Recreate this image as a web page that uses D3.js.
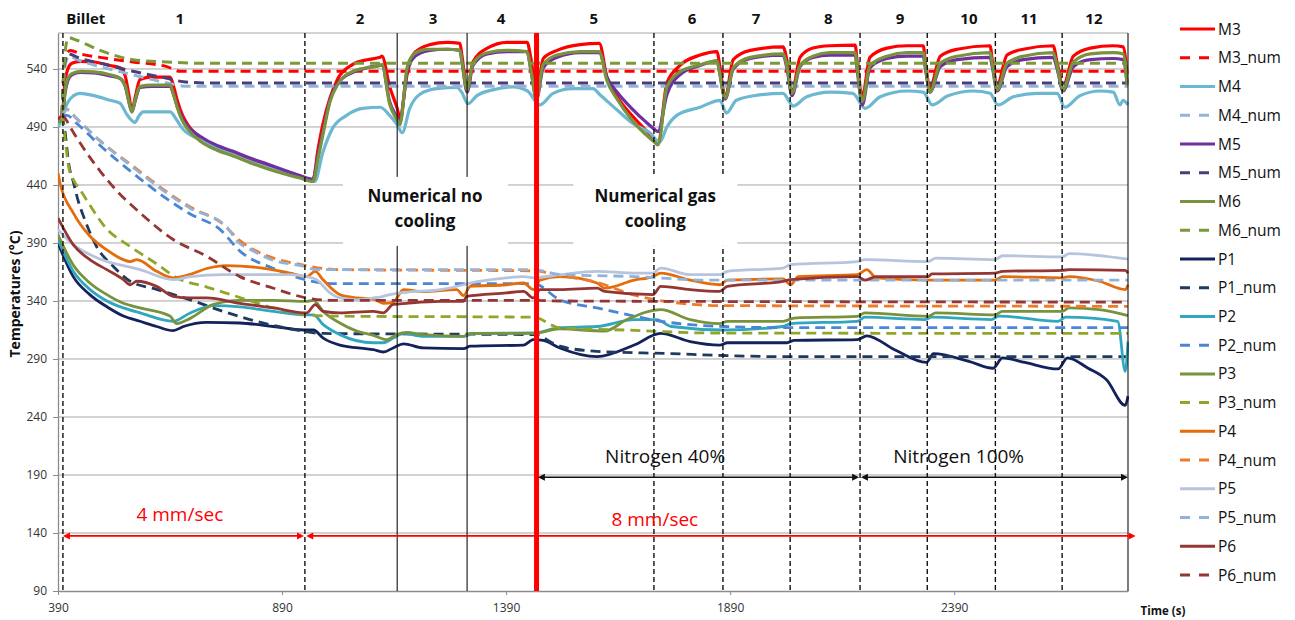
<!DOCTYPE html>
<html>
<head>
<meta charset="utf-8">
<script src="https://cdn.jsdelivr.net/npm/d3@7"></script>
<style>
  body { margin: 0; background: #fff; }
  svg { font-family: "Open Sans", "DejaVu Sans", sans-serif; }
</style>
</head>
<body>
<div id="chart"></div>
<script>
// ---- datos (tiempo s, temperatura C) ----
const M3 = [[390,497],[399,500],[406,530],[412,540],[421,545],[440,546.5],[470,546],[506,543],[528,541],[540,534],[548,518],[555,504],[562,515],[573,531],[600,533],[640,533],[648,525],[656,513],[668,500],[678,493],[707,481],[745,472],[781,467],[820,461],[857,456],[900,451],[930,448],[959,444],[970,470],[981,492],[997,515],[1015,532],[1048,544],[1080,548],[1109,550],[1113,551],[1130,525],[1147,506],[1153,498],[1169,535],[1182,552],[1200,558],[1220,561],[1258,563],[1287,562],[1292,550],[1303,522],[1316,546],[1348,558],[1392,563],[1437,563],[1445,550],[1458,520],[1473,549],[1504,556],[1555,561],[1598,562],[1615,533],[1638,516],[1673,499],[1700,488],[1718,481],[1729,476],[1749,528],[1778,543],[1823,552],[1861,555],[1866,545],[1879,516],[1897,548],[1935,556],[2008,559],[2018,545],[2028,520],[2046,550],[2075,558],[2113,560],[2169,560.5],[2174,545],[2185,516],[2202,550],[2240,558],[2285,560],[2321,560],[2326,545],[2336,524],[2359,551],[2397,557],[2470,560],[2476,545],[2486,526],[2508,552],[2544,557],[2611,560],[2620,545],[2633,525],[2656,551],[2694,558],[2745,560],[2767,559],[2776,536]];
const M3_num = [[399,500],[404,545],[410,554],[418,556],[440,553],[484,550],[557,546],[633,542],[662,538],[700,538],[2778,538]];
const M4 = [[390,490],[399,497],[410,510],[425,517],[439,519],[470,517],[506,513],[528,510.5],[545,500],[562,494],[570,499],[580,503],[640,503],[655,496],[667,489],[707,479],[745,472],[781,466],[820,460],[857,455],[900,450],[930,447],[963,443],[981,468],[1003,489],[1034,500],[1070,506],[1109,507],[1130,500],[1147,492],[1158,485],[1175,506],[1197,518],[1235,523],[1280,524],[1291,520],[1305,510],[1325,517],[1360,522],[1405,524.5],[1438,521],[1465,509],[1495,519],[1539,523],[1584,523],[1600,517.6],[1638,504.6],[1673,493],[1711,485],[1733,477],[1749,490],[1771,500],[1823,507],[1867,513],[1882,502],[1904,513],[1955,517.6],[2008,519],[2024,510.7],[2030,508],[2061,516],[2113,520],[2164,519],[2191,506],[2225,516],[2285,521],[2321,520],[2341,509],[2375,516.6],[2433,521],[2470,519],[2488,509],[2522,516],[2575,519],[2620,519],[2637,507],[2671,517],[2716,521],[2745,520],[2760,509],[2767,513],[2778,509]];
const M4_num = [[399,500],[405,540],[414,551],[440,547],[484,542],[557,535],[633,528],[678,525],[2778,525]];
const M5 = [[390,495],[399,498],[406,520],[412,530],[421,535],[440,537],[470,536.5],[506,534],[528,532],[540,525],[548,512],[555,503],[562,512],[573,524],[600,525],[640,525],[648,518],[656,508],[668,497],[678,491],[707,482],[745,474],[781,469],[820,463],[857,458],[900,452],[930,448],[959,445],[970,465],[981,485],[997,513],[1015,528],[1048,537],[1080,541],[1109,543],[1113,543],[1130,512],[1147,498],[1153,494],[1169,538],[1182,549],[1200,554],[1220,556],[1258,557],[1287,556],[1292,545],[1303,520],[1316,543],[1348,553],[1392,555],[1437,555],[1445,540],[1458,514],[1473,541],[1504,550],[1555,554],[1598,554],[1615,533],[1638,520],[1673,505],[1700,495],[1718,489],[1729,486],[1749,518],[1778,535],[1823,543],[1861,547],[1866,538],[1879,514],[1897,540],[1935,549],[2008,552],[2018,538],[2028,517],[2046,542],[2075,550],[2113,552],[2169,552],[2174,538],[2185,509],[2202,541],[2240,549],[2285,551],[2321,551],[2326,540],[2336,520],[2359,542],[2397,548],[2470,550],[2476,540],[2486,521],[2508,542],[2544,548],[2611,550],[2620,540],[2633,521],[2656,542],[2694,548],[2745,549],[2767,548],[2776,528]];
const M5_num = [[399,500],[405,545],[412,553],[440,549],[484,545],[557,538],[633,532],[670,529],[720,528],[2778,528]];
const M6 = [[390,494],[399,497],[406,522],[412,532],[421,536],[440,538],[470,537.5],[506,535],[528,532],[540,526],[548,512],[555,503],[562,513],[573,525],[600,526],[640,526],[648,518],[656,507],[668,495],[678,489],[707,478],[745,470],[781,465],[820,459],[857,454],[900,449],[930,446],[959,443],[970,462],[981,483],[997,512],[1015,527],[1048,538],[1080,541],[1109,543],[1113,544],[1130,510],[1147,496],[1153,492],[1169,541],[1182,552],[1200,556],[1220,557],[1258,557],[1287,556],[1292,545],[1303,522],[1316,545],[1348,554],[1392,556],[1437,555],[1445,540],[1458,515],[1473,544],[1504,552],[1555,555],[1598,555],[1615,530],[1638,514],[1673,495],[1700,484],[1718,478],[1729,474.5],[1749,524.5],[1778,537.5],[1823,543.5],[1861,547],[1866,538],[1879,515],[1897,541],[1935,550],[2008,553],[2018,540],[2028,519],[2046,543],[2075,551],[2113,554],[2169,554],[2174,540],[2185,512],[2202,543],[2240,551],[2285,554],[2321,554],[2326,542],[2336,520],[2359,545],[2397,551],[2470,554],[2476,542],[2486,522],[2508,545],[2544,551],[2611,554],[2620,542],[2633,522],[2656,546],[2694,553],[2745,554],[2767,553],[2776,526]];
const M6_num = [[399,500],[406,555],[413,567],[430,565],[484,556],[557,548],[633,546],[700,545],[2778,545]];

const P1 = [[390,390],[424,361],[461,345.5],[499,335],[536,327],[573,322.5],[610,318],[647,314.4],[670,318],[722,321.6],[796,321],[871,318],[938,315],[960,315],[982,308],[1019,302],[1094,298],[1116,296],[1138,299.5],[1161,303],[1205,299.5],[1295,299],[1310,301],[1429,302],[1451,306.7],[1473,306],[1510,299.5],[1593,292],[1676,302],[1735,312],[1801,305],[1867,302],[1884,304],[2017,304],[2033,306],[2174,306.7],[2195,310],[2257,298],[2328,287],[2344,294.6],[2423,288],[2477,282],[2498,291],[2548,287],[2622,281.4],[2643,291],[2689,282],[2730,272],[2772,250],[2778,258]];
const P1_num = [[399,500],[405,488],[414,458],[424,443],[436,425],[446,414],[476,387],[513,370],[551,357],[610,350],[685,341],[759,331],[833,322.5],[908,316],[982,312],[1451,311],[1510,301],[1593,296.6],[1759,294.6],[1876,293],[2008,292],[2778,292]];
const P2 = [[390,393],[424,365.6],[461,350],[499,340],[536,334],[573,329.7],[647,322.5],[685,329.7],[737,336],[796,335],[871,331],[945,328],[960,328],[982,319.6],[1019,311],[1094,304],[1116,304],[1138,308],[1161,312],[1205,309.5],[1295,309.5],[1317,312],[1451,312.4],[1510,317],[1593,318],[1676,324],[1726,324],[1759,318],[1876,315],[2008,318],[2025,320.5],[2174,322.5],[2191,326],[2324,324],[2340,326],[2473,324],[2490,327],[2622,322.5],[2639,326],[2755,322.5],[2772,279.4],[2778,305]];
const P2_num = [[399,500],[410,500],[432,493],[484,474],[558,450],[633,428],[685,415],[752,401.5],[796,383],[871,368],[945,358],[1000,355],[1451,355],[1510,341],[1593,334],[1676,327],[1735,322.5],[1801,319.6],[1876,318],[2008,317],[2778,317]];
const P3 = [[390,397],[424,371],[461,355.5],[499,345.5],[536,338],[573,334],[640,327],[655,320.5],[685,325],[737,337],[796,340.6],[871,340.6],[945,339.7],[960,340.6],[982,331],[1019,321],[1057,314],[1094,310.4],[1124,306.7],[1146,311],[1168,313],[1205,311],[1295,309.5],[1310,312],[1451,312],[1510,316],[1610,314],[1660,324],[1735,332.5],[1801,324],[1867,320.5],[1884,322.5],[2008,322.5],[2033,325.3],[2174,326.8],[2191,329.7],[2332,326.8],[2349,329.7],[2481,328],[2498,331],[2631,331],[2647,334],[2714,332.5],[2778,327.4]];
const P3_num = [[399,500],[404,485],[414,455],[425,444],[439,436],[499,402],[551,387],[610,372],[655,360],[722,352],[796,343],[871,334],[945,328],[997,327],[1451,326],[1510,317],[1676,314.7],[1842,312.4],[2778,312]];
const P4 = [[390,450],[394.5,441.7],[424,416],[461,396],[499,384],[536,375.6],[551,374],[566,375.6],[610,365.6],[647,360],[685,363],[722,368],[766,370.5],[833,369],[908,364],[945,361],[964,365.6],[982,358],[1019,345.5],[1057,342.6],[1094,341.7],[1116,338],[1138,338.8],[1161,349.8],[1205,348],[1280,349.8],[1295,344.6],[1310,352.6],[1391,354],[1429,355.5],[1451,349.8],[1466,358],[1510,361],[1593,355.5],[1610,351],[1676,358],[1718,361],[1735,364],[1801,358],[1867,354],[1884,358],[2008,359],[2025,354],[2042,361],[2174,362.7],[2195,367],[2216,360],[2340,358],[2481,358],[2498,361],[2631,360],[2647,361],[2714,357],[2772,349.8],[2778,354]];
const P4_num = [[399,500],[410,505],[432,497],[484,478],[558,456],[633,434],[685,421],[759,406],[796,392],[833,383],[871,377],[938,371],[982,368],[1019,367],[1451,366],[1510,362],[1593,356],[1676,345],[1759,339],[1876,336],[2778,335.4]];
const P5 = [[390,401.5],[424,388.6],[461,380],[499,374],[536,370.5],[573,367],[647,358.4],[685,361],[759,362.7],[833,362.7],[908,362.7],[945,361],[967,358.4],[997,347],[1019,342.6],[1057,341],[1094,342.6],[1116,344],[1131,345.5],[1168,347.5],[1243,349.8],[1295,354],[1310,355.5],[1391,360],[1429,361],[1451,360],[1510,362.7],[1593,365.6],[1676,364],[1718,364],[1735,368.4],[1801,362.7],[1867,362.7],[1884,365.6],[2008,368.4],[2025,371.3],[2174,374],[2191,375.6],[2332,374],[2349,377],[2481,375.6],[2498,379],[2631,378],[2647,380.8],[2778,376]];
const P5_num = [[399,500],[410,505],[432,497],[484,478],[558,455],[633,433],[685,420],[766,404],[789,392],[826,383],[871,375],[938,370],[967,367],[1451,367],[1510,363],[1676,361],[1842,358],[2778,358]];
const P6 = [[390,411.5],[424,388.6],[461,375.6],[499,367],[536,358.4],[551,354],[566,357],[610,352.6],[647,344],[685,342.6],[722,342.6],[796,338],[871,334],[945,329.7],[964,336.8],[982,331],[1019,329.7],[1094,331],[1116,329.7],[1138,337],[1168,338],[1243,339.7],[1295,339.7],[1302,344],[1391,347],[1429,348.3],[1451,342.6],[1466,349.8],[1510,349.8],[1593,351],[1610,348.3],[1718,345.5],[1735,352.6],[1801,349.8],[1867,348.3],[1884,352.6],[2008,357],[2025,358.4],[2174,361],[2191,358],[2216,361],[2332,361],[2340,363.3],[2481,364],[2498,365.6],[2631,366.4],[2647,367],[2772,366.4],[2778,364]];
const P6_num = [[399,500],[405,498],[417,490],[450,470],[484,452],[521,435],[573,416],[647,393],[722,378.5],[796,361],[871,351],[945,342.6],[997,340.6],[1451,340.6],[1510,340],[2778,339]];

const SERIES_NAMES = ["M3","M3_num","M4","M4_num","M5","M5_num","M6","M6_num","P1","P1_num","P2","P2_num","P3","P3_num","P4","P4_num","P5","P5_num","P6","P6_num"];
const SERIES_DATA = [M3,M3_num,M4,M4_num,M5,M5_num,M6,M6_num,P1,P1_num,P2,P2_num,P3,P3_num,P4,P4_num,P5,P5_num,P6,P6_num];
const SERIES_COLORS = ["#ff0000","#ff0000","#6db8d1","#93b3d9","#7030a0","#4a3d78","#77933c","#7a9a3a","#14225c","#1f3a5f","#31a6bf","#4a86d2","#77933c","#8fa62a","#e46c0a","#ef7a2a","#b6c4de","#93b2d8","#943634","#943634"];

const X_TICKS = [390, 890, 1390, 1890, 2390];
const Y_TICKS = [90, 140, 190, 240, 290, 340, 390, 440, 490, 540];

// limites de ciclo (lineas verticales) y etiquetas de arriba
const SEG_BOUNDS = [401, 941, 1147, 1303, 1458, 1720, 1874, 2024, 2180, 2330, 2482, 2631, 2778];
const SEG_STYLE = ["dash","dash","solid","solid","red","dash","dash","dash","dash","dash","dash","dash","solid"];
const SEG_LABELS = ["Billet","1","2","3","4","5","6","7","8","9","10","11","12"];
const SEG_LABEL_T = [452, 662, 1064, 1227, 1379, 1586, 1805, 1948, 2109, 2269, 2423, 2557, 2702];

// Tamaño
const WIDTH = 1295;
const HEIGHT = 620;
const PLOT = { left: 58, right: 1128, top: 33, bottom: 591 };

const SVG = d3.select("#chart").append("svg")
  .attr("width", WIDTH).attr("height", HEIGHT);

const x = d3.scaleLinear().domain([390, 2778]).range([PLOT.left, PLOT.right]);
const y = d3.scaleLinear().domain([90, 571]).range([PLOT.bottom, PLOT.top]);

// grilla horizontal
SVG.append("g").selectAll("line")
  .data(Y_TICKS.filter(d => d > 90))
  .join("line")
  .attr("x1", PLOT.left).attr("x2", PLOT.right)
  .attr("y1", d => y(d)).attr("y2", d => y(d))
  .attr("stroke", "#a6a6a6").attr("stroke-width", 1);

// borde superior
SVG.append("line")
  .attr("x1", PLOT.left).attr("x2", PLOT.right)
  .attr("y1", PLOT.top).attr("y2", PLOT.top)
  .attr("stroke", "#a6a6a6");

// ejes
const gy = SVG.append("g").attr("transform", `translate(${PLOT.left},0)`)
  .call(d3.axisLeft(y).tickValues(Y_TICKS).tickSize(5).tickPadding(6).tickSizeOuter(0));
const gx = SVG.append("g").attr("transform", `translate(0,${PLOT.bottom})`)
  .call(d3.axisBottom(x).tickValues(X_TICKS).tickFormat(d3.format("d")).tickSize(4).tickPadding(8).tickSizeOuter(0));
[gx, gy].forEach(g => {
  g.select(".domain").attr("stroke", "#8c8c8c").attr("stroke-width", 1.3);
  g.selectAll(".tick line").attr("stroke", "#8c8c8c");
  g.selectAll(".tick text").attr("fill", "#333").style("font-size", "12px")
    .style("font-family", '"Open Sans", sans-serif');
});

// series
SVG.append("clipPath").attr("id", "plotclip").append("rect")
  .attr("x", PLOT.left).attr("y", PLOT.top)
  .attr("width", PLOT.right - PLOT.left + 1).attr("height", PLOT.bottom - PLOT.top);

const line = d3.line().x(d => x(d[0])).y(d => y(d[1])).curve(d3.curveMonotoneX);

SVG.append("g").attr("clip-path", "url(#plotclip)")
  .selectAll("path")
  .data(SERIES_DATA)
  .join("path")
  .attr("d", d => line(d))
  .attr("fill", "none")
  .attr("stroke", (d, i) => SERIES_COLORS[i])
  .attr("stroke-width", (d, i) => i < 8 ? (i % 2 == 0 ? 3.2 : 3) : 2.8)
  .attr("stroke-dasharray", (d, i) => i % 2 == 1 ? "10,6" : null)
  .attr("stroke-linejoin", "round");

// lineas verticales de cada ciclo
SVG.append("g").selectAll("line")
  .data(SEG_BOUNDS)
  .join("line")
  .attr("x1", d => x(d)).attr("x2", d => x(d))
  .attr("y1", PLOT.top).attr("y2", PLOT.bottom)
  .attr("stroke", (d, i) => SEG_STYLE[i] == "red" ? "#ff0000" : "#111")
  .attr("stroke-width", (d, i) => SEG_STYLE[i] == "red" ? 5 : (SEG_STYLE[i] == "solid" ? 1.1 : 1.4))
  .attr("stroke-dasharray", (d, i) => SEG_STYLE[i] == "dash" ? "5,3" : null);

// cajas de texto "Numerical ..."
const BOXES = [
  { t0: 1026, t1: 1394, tc: 1209, lines: ["Numerical no", "cooling"] },
  { t0: 1540, t1: 1906, tc: 1723, lines: ["Numerical gas", "cooling"] }
];
BOXES.forEach(b => {
  SVG.append("rect")
    .attr("x", x(b.t0)).attr("width", x(b.t1) - x(b.t0))
    .attr("y", y(447)).attr("height", y(387.5) - y(447))
    .attr("fill", "#fff");
  b.lines.forEach((s, k) => {
    SVG.append("text")
      .attr("x", x(b.tc)).attr("y", y(k == 0 ? 425.3 : 403.8))
      .attr("text-anchor", "middle")
      .style("font-size", "17px").style("font-weight", "bold")
      .attr("fill", "#111").text(s);
  });
});

// etiquetas de ciclo
SVG.append("g").selectAll("text")
  .data(SEG_LABELS)
  .join("text")
  .attr("x", (d, i) => x(SEG_LABEL_T[i]))
  .attr("y", 24)
  .attr("text-anchor", "middle")
  .style("font-size", "15px").style("font-weight", "bold")
  .attr("fill", "#111")
  .text(d => d);

// flechas
function flecha(t0, t1, T, color) {
  const g = SVG.append("g");
  const yy = y(T);
  g.append("line")
    .attr("x1", x(t0) + 2).attr("x2", x(t1) - 2)
    .attr("y1", yy).attr("y2", yy)
    .attr("stroke", color).attr("stroke-width", 1.6);
  g.append("path")
    .attr("d", `M${x(t0)},${yy} l7,-3.5 l0,7 z`)
    .attr("fill", color);
  g.append("path")
    .attr("d", `M${x(t1)},${yy} l-7,-3.5 l0,7 z`)
    .attr("fill", color);
}
flecha(1461, 2178, 188, "#111");
flecha(2182, 2778, 188, "#111");
flecha(401, 939, 137.5, "#ff0000");
flecha(944, 2795, 137.5, "#ff0000");

const NOTES = [
  { t: 1745, T: 200.3, s: "Nitrogen 40%", c: "#111" },
  { t: 2400, T: 200.3, s: "Nitrogen 100%", c: "#111" },
  { t: 662, T: 150, s: "4 mm/sec", c: "#ff0000" },
  { t: 1722, T: 146, s: "8 mm/sec", c: "#ff0000" }
];
SVG.append("g").selectAll("text")
  .data(NOTES)
  .join("text")
  .attr("x", d => x(d.t)).attr("y", d => y(d.T))
  .attr("text-anchor", "middle")
  .style("font-size", "19px")
  .attr("fill", d => d.c)
  .text(d => d.s);

// titulos de ejes
SVG.append("text")
  .attr("transform", "translate(20,294) rotate(-90)")
  .attr("text-anchor", "middle")
  .style("font-size", "14px").style("font-weight", "bold")
  .attr("fill", "#111")
  .text("Temperatures (°C)");
SVG.append("text")
  .attr("x", 1163).attr("y", 615)
  .attr("text-anchor", "middle")
  .style("font-size", "11.5px").style("font-weight", "bold")
  .attr("fill", "#111")
  .text("Time (s)");

// leyenda
const legend = SVG.append("g").selectAll("g")
  .data(SERIES_NAMES)
  .join("g")
  .attr("transform", (d, i) => `translate(1180,${29 + i * 28.74})`);
legend.append("line")
  .attr("x1", 0).attr("x2", 35).attr("y1", 0).attr("y2", 0)
  .attr("stroke", (d, i) => SERIES_COLORS[i])
  .attr("stroke-width", 3)
  .attr("stroke-dasharray", (d, i) => i % 2 == 1 ? "10,9" : null);
legend.append("text")
  .attr("x", 38).attr("y", 0).attr("dy", "0.36em")
  .style("font-size", "15.5px")
  .attr("fill", "#111")
  .text(d => d);
</script>
</body>
</html>
